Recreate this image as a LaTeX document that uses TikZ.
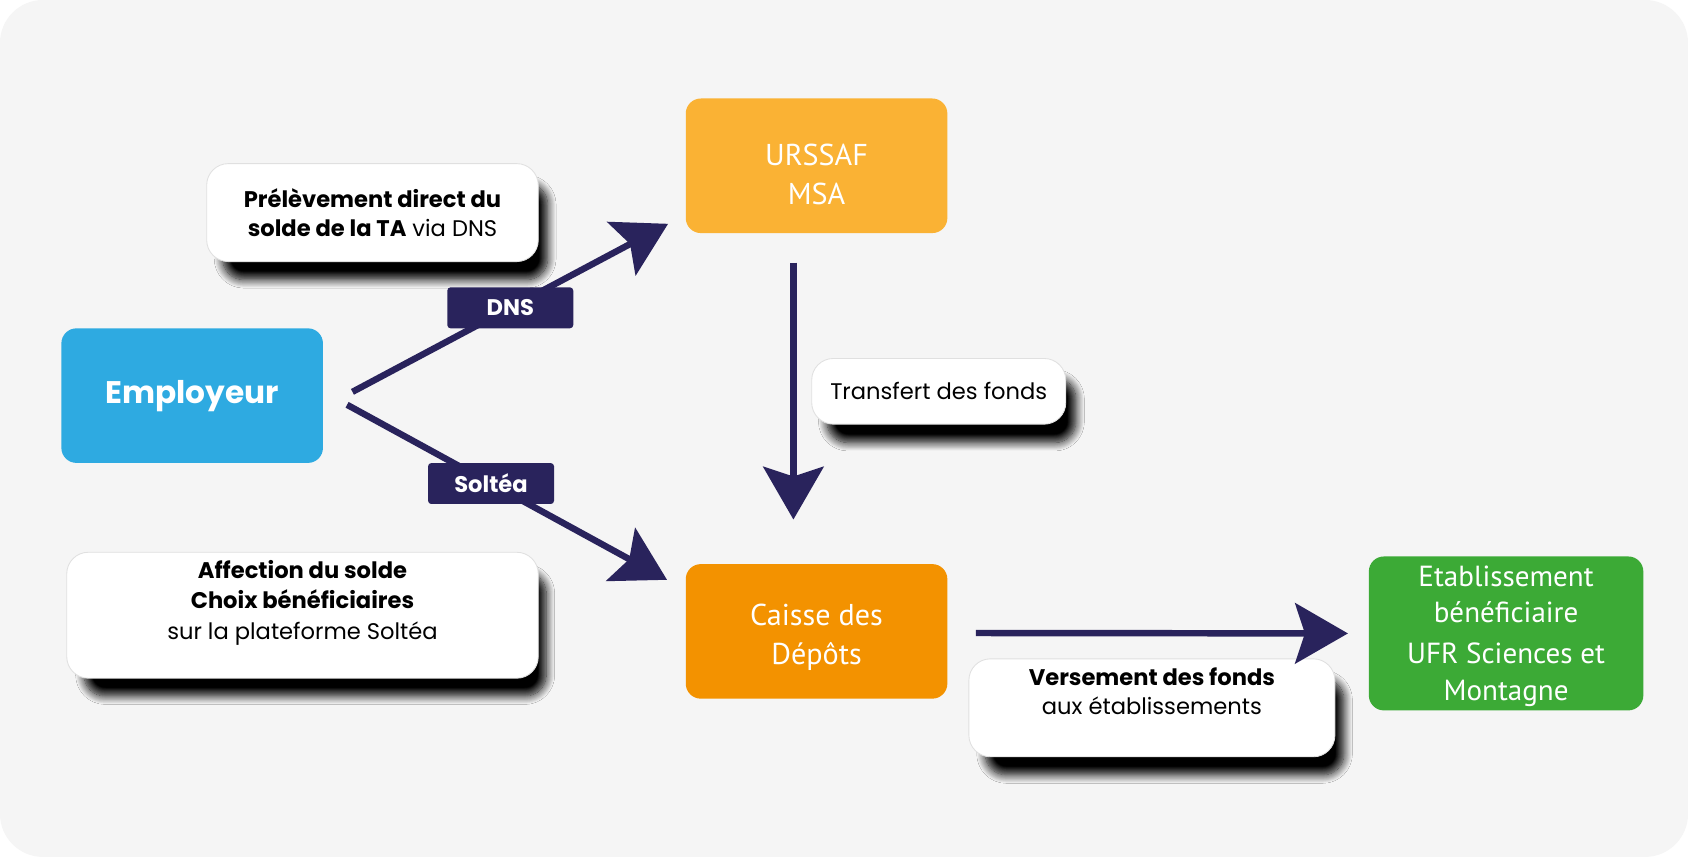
\documentclass[tikz,border=0pt]{standalone}
\usepackage{fontspec}
\setmainfont{Poppins}
\newfontfamily\myriad{PT Sans}
\usetikzlibrary{arrows.meta,shadows.blur}
\definecolor{bggray}{HTML}{F5F5F5}
\definecolor{empblue}{HTML}{2EAAE1}
\definecolor{urssafyellow}{HTML}{FAB234}
\definecolor{cdcorange}{HTML}{F39200}
\definecolor{etabgreen}{HTML}{3CAA36}
\definecolor{navy}{HTML}{29235C}
% text block of a box: height, width, space on top, lines
\newcommand{\boxtext}[4]{\parbox[c][#1][c]{#2}{\vspace*{#3}\centering #4}}
\tikzset{
  actor/.style={rounded corners=7pt, inner sep=0pt, text=white,
    font=\myriad\fontsize{14}{18}\selectfont},
  note/.style={fill=white, draw=black!12, line width=0.4pt, rounded corners=10pt,
    align=center, font=\fontsize{10.5}{13.5}\selectfont,
    blur shadow={shadow xshift=6pt, shadow yshift=-9pt, shadow blur radius=4pt,
      shadow blur steps=12, shadow opacity=100, shadow scale=0.98}},
  tag/.style={fill=navy, text=white, font=\bfseries\fontsize{10.5}{12}\selectfont,
    minimum width=58.5pt, minimum height=19pt, rounded corners=1.5pt, inner sep=0pt},
  flow/.style={draw=navy, line width=3pt, -{Stealth[length=24.5pt, width=28pt, inset=4.5pt]}},
}
\begin{document}
\begin{tikzpicture}[x=0.5pt, y=-0.5pt]
  % Background
  \fill[white] (0,0) rectangle (1568,796);
  \fill[bggray, rounded corners=20pt] (0,0) rectangle (1568,796);
  \useasboundingbox (0,0) rectangle (1568,796);
  % Actors
  \node[actor, fill=empblue, font=\bfseries\fontsize{14.5}{17}\selectfont] (emp) at (178.5,367.5)
    {\boxtext{62.5pt}{121.5pt}{0pt}{Employeur}};
  \node[actor, fill=urssafyellow] (urssaf) at (758.5,154)
    {\boxtext{62.5pt}{121.5pt}{8pt}{URSSAF\\MSA}};
  \node[actor, fill=cdcorange] (cdc) at (758.5,586.5)
    {\boxtext{62.5pt}{121.5pt}{5.5pt}{Caisse des\\Dépôts}};
  \node[actor, fill=etabgreen, font=\myriad\fontsize{13.5}{17}\selectfont] (etab) at (1399,588.4)
    {\boxtext{71.5pt}{127.5pt}{2.5pt}{Etablissement\\bénéficiaire\\[2pt]UFR Sciences et\\Montagne}};
  % Notes
  \node[note, minimum width=154pt, minimum height=45.5pt] (prel) at (346,197.5)
    {\textbf{Prélèvement direct du}\\\textbf{solde de la TA} via DNS};
  \node[note, minimum width=118pt, minimum height=30.5pt] (transf) at (872,363.5)
    {Transfert des fonds};
  \node[note, inner sep=0pt] (affect) at (281,571.5)
    {\parbox[c][58.5pt][t]{219pt}{\vspace*{4pt}\centering
      \textbf{Affection du solde}\\\textbf{Choix bénéficiaires}\\[1pt]sur la plateforme Soltéa}};
  \node[note, inner sep=0pt] (vers) at (1070,657.5)
    {\parbox[c][45.5pt][t]{170pt}{\vspace*{4pt}\centering
      \textbf{Versement des fonds}\\aux établissements}};
  % Flows
  \draw[flow] ([shift={(27,-3.5)}]emp.east) -- ([shift={(-16,-9)}]urssaf.south west)
    node[tag, pos=0.5] (dns) {DNS};
  \draw[flow] ([shift={(22,8.5)}]emp.east) -- ([shift={(-17,15)}]cdc.north west)
    node[tag, pos=0.45] (soltea) {Soltéa};
  \draw[flow] ([shift={(-21.5,27)}]urssaf.south) -- ([shift={(-21.5,-41)}]cdc.north);
  \draw[flow] ([shift={(26,1.5)}]cdc.east) -- ([shift={(-19,0)}]etab.west);
\end{tikzpicture}
\end{document}
